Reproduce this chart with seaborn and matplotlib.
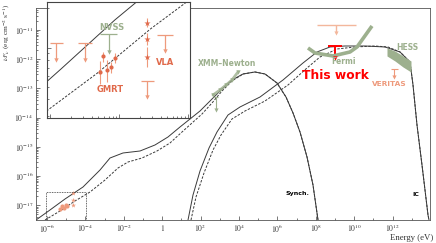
import numpy as np
import matplotlib
matplotlib.use("Agg")
import matplotlib.pyplot as plt
import seaborn as sns
from matplotlib.ticker import FixedLocator, FixedFormatter, NullFormatter, LogLocator
from matplotlib.patches import Rectangle

sns.set_style("ticks")
plt.rcParams["font.family"] = ["DejaVu Sans"]
plt.rcParams["mathtext.fontset"] = "stix"

# -----------------------------------------------------------
# model curves (log10 E [eV], log10 nuFnu [erg cm^-2 s^-1])

synch_solid_logE = [-6.573, -5.844, -5.063, -4.125, -3.240, -2.719, -2.042, -1.156, -0.375, 0.302,
                    0.927, 1.448, 1.969, 2.490, 3.115, 3.635, 4.208, 4.833, 5.354, 5.979,
                    6.448, 6.813, 7.177, 7.542, 7.854, 8.115]
synch_solid_logF = [-17.507, -17.164, -16.788, -16.377, -15.795, -15.384, -15.212, -15.144, -14.938, -14.664,
                    -14.322, -14.048, -13.774, -13.432, -13.021, -12.712, -12.507, -12.438, -12.507, -12.815,
                    -13.295, -13.842, -14.493, -15.349, -16.308, -17.507]

synch_dash_logE = [-6.104, -5.323, -4.542, -3.760, -2.979, -2.302, -1.781, -1.052, -0.271, 0.406,
                   1.031, 1.552, 2.073, 2.594, 3.115, 3.635, 4.208, 4.833, 5.354, 5.979,
                   6.448, 6.813, 7.177, 7.542, 7.854, 8.115]
synch_dash_logF = [-17.507, -17.199, -16.856, -16.548, -16.137, -15.726, -15.521, -15.384, -15.144, -14.870,
                   -14.493, -14.185, -13.877, -13.500, -13.089, -12.747, -12.507, -12.438, -12.507, -12.815,
                   -13.295, -13.842, -14.493, -15.349, -16.308, -17.507]

ic_solid_logE = [1.344, 1.604, 1.969, 2.438, 2.854, 3.427, 4.052, 5.094, 6.292, 7.333,
                 8.063, 8.740, 9.521, 10.563, 11.604, 12.385, 12.906, 13.063, 13.271, 13.531,
                 13.844, 13.896]
ic_solid_logF = [-17.507, -16.651, -15.829, -15.041, -14.493, -13.911, -13.637, -13.295, -12.712, -12.130,
                 -11.753, -11.582, -11.548, -11.548, -11.582, -11.753, -12.096, -12.884, -14.253, -15.623,
                 -17.336, -17.507]

ic_dash_logE = [1.500, 1.760, 2.177, 2.646, 3.063, 3.635, 4.313, 5.354, 6.552, 7.542,
                8.219, 9.104, 10.042, 11.083, 11.760, 12.385, 12.906, 13.063, 13.271, 13.531,
                13.844, 13.896]
ic_dash_logF = [-17.507, -16.719, -15.897, -15.110, -14.596, -14.048, -13.774, -13.432, -12.884, -12.301,
                -11.925, -11.651, -11.582, -11.548, -11.582, -11.753, -12.096, -12.884, -14.253, -15.623,
                -17.336, -17.507]

# -----------------------------------------------------------
# observations (main panel)

radio_circ_logE = [-5.323, -5.219, -5.115, -5.010, -4.958]
radio_circ_logF = [-17.13, -17.03, -17.10, -16.99, -17.03]
radio_star_logE = [-4.646, -4.646, -4.646]
radio_star_logF = [-16.58, -16.82, -16.99]

xmm_logE = [2.646, 3.010, 3.323, 3.635, 3.948]
xmm_logF = [-13.226, -13.055, -12.884, -12.712, -12.438]

fermi_logE = [7.594, 7.958, 8.896, 9.781, 10.146, 10.927]
fermi_logF = [-11.616, -11.788, -11.890, -11.753, -11.582, -10.863]

hess_logE = [11.708, 12.125, 12.542, 12.958]
hess_hi_logF = [-11.616, -11.719, -11.890, -12.062]
hess_lo_logF = [-11.890, -12.062, -12.267, -12.438]

# upper limits: centre, bar ends, bar level, arrow tip
xmm_ul = dict(E=[2.802], lo=[2.70], hi=[2.90], bar=[-13.295], tip=[-13.74])
old_ul = dict(E=[9.052], lo=[8.063], hi=[10.094], bar=[-10.829], tip=[-11.103])
this_ul = dict(E=[9.0], lo=[8.635], hi=[9.365], bar=[-11.548], tip=[-11.959])
veritas_ul = dict(E=[12.073], lo=[11.917], hi=[12.281], bar=[-12.336], tip=[-12.610])

# -----------------------------------------------------------
# observations (radio inset)

gmrt_logE = [-5.279, -5.235, -5.177, -5.119, -5.061]
gmrt_logF = [-17.188, -17.065, -17.173, -17.150, -17.081]
gmrt_lo_logF = [-17.281, -17.112, -17.265, -17.196, -17.119]
gmrt_hi_logF = [-17.104, -17.035, -17.096, -17.112, -17.042]

vla_logE = [-4.595, -4.595, -4.595]
vla_logF = [-16.812, -16.935, -17.073]
vla_lo_logF = [-16.842, -16.981, -17.150]
vla_hi_logF = [-16.773, -16.888, -16.996]

radio_ul = dict(E=[-5.919, -5.497, -4.595, -4.334], lo=[-6.006, -5.599, -4.683, -4.450],
                hi=[-5.817, -5.395, -4.494, -4.217], bar=[-16.965, -16.965, -17.258, -16.904],
                tip=[-17.096, -17.096, -17.381, -17.027])
nvss_ul = dict(E=[-5.148], lo=[-5.279], hi=[-5.032], bar=[-16.896], tip=[-17.035])

main_xlim = (-6.573, 13.948)
main_ylim = (-17.507, -10.247)
inset_xlim = (-6.05, -3.97)
inset_ylim = (-17.542, -16.65)
zoom_box_top = -16.548

x_major = list(range(-6, 14, 2))
x_labels = ["$10^{%d}$" % p if p != 0 else "$1$" for p in x_major]
y_major = list(range(-17, -10))
y_labels = ["$10^{%d}$" % p for p in y_major]

# -----------------------------------------------------------
LINE = "#3a3a3a"
ORANGE = "#e0694a"
SALMON = "#ee9a7c"
LIGHT = "#f3b79c"
GREEN = "#9db08e"
RED = "#ff0000"
DASH = (0, (2.5, 1.5))


def p10(v):
    return 10 ** np.asarray(v, dtype=float)


def draw_ul(a, ul, color, lw=0.8, ms=9):
    a.hlines(p10(ul["bar"]), p10(ul["lo"]), p10(ul["hi"]), color=color, lw=lw)
    a.vlines(p10(ul["E"]), p10(ul["tip"]), p10(ul["bar"]), color=color, lw=lw)
    a.scatter(p10(ul["E"]), p10(ul["tip"]), marker="v", s=ms, color=color, lw=0, zorder=4)


def draw_models(a):
    sns.lineplot(x=p10(synch_solid_logE), y=p10(synch_solid_logF), sort=False, estimator=None,
                 color=LINE, lw=0.7, ax=a)
    sns.lineplot(x=p10(synch_dash_logE), y=p10(synch_dash_logF), sort=False, estimator=None,
                 color=LINE, lw=0.7, linestyle=DASH, ax=a)
    sns.lineplot(x=p10(ic_solid_logE), y=p10(ic_solid_logF), sort=False, estimator=None,
                 color=LINE, lw=0.7, ax=a)
    sns.lineplot(x=p10(ic_dash_logE), y=p10(ic_dash_logF), sort=False, estimator=None,
                 color=LINE, lw=0.7, linestyle=DASH, ax=a)


fig = plt.figure(figsize=(4.36, 2.43), dpi=100)
W, H = 436.0, 243.0
ax = fig.add_axes([36 / W, 1 - 220 / H, 394 / W, 212 / H])
ax.set_xscale("log")
ax.set_yscale("log")

draw_models(ax)

# data in main panel
ax.fill_between(p10(hess_logE), p10(hess_lo_logF), p10(hess_hi_logF), color=GREEN, lw=0, zorder=3)
ax.plot(p10(fermi_logE), p10(fermi_logF), color=GREEN, lw=2.6, solid_capstyle="butt", zorder=3)
ax.plot(p10(xmm_logE), p10(xmm_logF), color=GREEN, lw=2.0, alpha=0.8, zorder=3)
sns.scatterplot(x=p10(xmm_logE), y=p10(xmm_logF), marker="v", s=10, color=GREEN, lw=0, ax=ax, zorder=4)
draw_ul(ax, xmm_ul, GREEN)
draw_ul(ax, old_ul, LIGHT, lw=1.0)
draw_ul(ax, this_ul, RED, lw=1.4, ms=10)
draw_ul(ax, veritas_ul, SALMON)
sns.scatterplot(x=p10(radio_circ_logE), y=p10(radio_circ_logF), marker="o", s=9, color=SALMON,
                lw=0, ax=ax, zorder=4)
sns.scatterplot(x=p10(radio_star_logE), y=p10(radio_star_logF), marker="*", s=14, color=SALMON,
                lw=0, ax=ax, zorder=4)

# dotted zoom box
ax.add_patch(Rectangle((10 ** inset_xlim[0], 10 ** main_ylim[0]),
                       10 ** inset_xlim[1] - 10 ** inset_xlim[0],
                       10 ** zoom_box_top - 10 ** main_ylim[0],
                       fill=False, ls=(0, (1, 1)), lw=0.6, ec="#333333", zorder=5))

ax.set_xlim(p10(main_xlim))
ax.set_ylim(p10(main_ylim))
ax.xaxis.set_major_locator(FixedLocator(p10(x_major)))
ax.xaxis.set_major_formatter(FixedFormatter(x_labels))
ax.xaxis.set_minor_locator(FixedLocator(p10(range(-6, 14))))
ax.xaxis.set_minor_formatter(NullFormatter())
ax.yaxis.set_major_locator(FixedLocator(p10(y_major)))
ax.yaxis.set_major_formatter(FixedFormatter(y_labels))
ax.yaxis.set_minor_locator(LogLocator(base=10, subs=np.arange(2, 10), numticks=20))
ax.yaxis.set_minor_formatter(NullFormatter())
ax.tick_params(which="both", direction="in", labelsize=5.5, width=0.5, color="#444444",
               labelcolor="#333333", pad=2)
ax.tick_params(which="major", length=3)
ax.tick_params(which="minor", length=1.5)
for s in ax.spines.values():
    s.set_linewidth(0.6)
    s.set_color("#555555")

# labels on main panel
def ftext(px, py, s, **kw):
    fig.text(px / W, 1 - py / H, s, ha="center", va="center", **kw)

ftext(227, 63, "XMM\u2013Newton", color=GREEN, fontsize=5.5, fontweight="bold")
ftext(343, 62, "Fermi", color=GREEN, fontsize=5.5, fontweight="bold")
ftext(407, 47, "HESS", color=GREEN, fontsize=5.5, fontweight="bold")
ftext(389, 84, "VERITAS", color=SALMON, fontsize=5.3, fontweight="bold")
ftext(335, 75, "This work", color=RED, fontsize=8.8, fontweight="bold")
ftext(297, 193, "Synch.", color="black", fontsize=4.5, fontweight="bold")
ftext(416, 194, "IC", color="black", fontsize=4.5, fontweight="bold")
fig.text(433 / W, 1 - 238 / H, "Energy (eV)", ha="right", va="center", fontsize=6.3,
         family=["Liberation Serif", "DejaVu Serif"], color="#333333")
fig.text(7 / W, 1 - 32 / H, r"$\nu F_\nu$ (erg cm$^{-2}$ s$^{-1}$)", rotation=90, ha="center",
         va="center", fontsize=5.3, family=["Liberation Serif", "DejaVu Serif"], color="#333333")

# -----------------------------------------------------------
# radio inset
axi = fig.add_axes([47 / W, 1 - 118 / H, 143 / W, 116 / H], zorder=6)
axi.set_facecolor("white")
axi.set_xscale("log")
axi.set_yscale("log")
draw_models(axi)

axi.errorbar(p10(gmrt_logE), p10(gmrt_logF),
             yerr=[p10(gmrt_logF) - p10(gmrt_lo_logF), p10(gmrt_hi_logF) - p10(gmrt_logF)],
             fmt="none", ecolor=SALMON, elinewidth=0.8, capsize=0)
axi.errorbar(p10(vla_logE), p10(vla_logF),
             yerr=[p10(vla_logF) - p10(vla_lo_logF), p10(vla_hi_logF) - p10(vla_logF)],
             fmt="none", ecolor=SALMON, elinewidth=0.8, capsize=0)
sns.scatterplot(x=p10(gmrt_logE), y=p10(gmrt_logF), marker="o", s=9, color=ORANGE, lw=0, ax=axi, zorder=4)
sns.scatterplot(x=p10(vla_logE), y=p10(vla_logF), marker="*", s=22, color=ORANGE, lw=0, ax=axi, zorder=4)
draw_ul(axi, radio_ul, SALMON, lw=0.9, ms=10)
draw_ul(axi, nvss_ul, GREEN, lw=0.9, ms=10)

def itext(px, py, s, **kw):
    axi.text((px - 47) / 143, 1 - (py - 2) / 116, s, transform=axi.transAxes,
             ha="center", va="center", fontweight="bold", **kw)

itext(112, 27, "NVSS", color=GREEN, fontsize=6)
itext(110, 90, "GMRT", color=ORANGE, fontsize=6)
itext(165, 62, "VLA", color=ORANGE, fontsize=6)

axi.set_xlim(p10(inset_xlim))
axi.set_ylim(p10(inset_ylim))
axi.xaxis.set_major_locator(LogLocator(base=10, numticks=10))
axi.xaxis.set_minor_locator(LogLocator(base=10, subs=np.arange(2, 10), numticks=20))
axi.yaxis.set_major_locator(LogLocator(base=10, numticks=10))
axi.yaxis.set_minor_locator(LogLocator(base=10, subs=np.arange(2, 10), numticks=20))
for a_ in (axi.xaxis, axi.yaxis):
    a_.set_major_formatter(NullFormatter())
    a_.set_minor_formatter(NullFormatter())
axi.tick_params(which="both", direction="in", width=0.5, color="#444444")
axi.tick_params(which="major", length=3)
axi.tick_params(which="minor", length=1.5)
for s in axi.spines.values():
    s.set_linewidth(0.8)
    s.set_color("#444444")

fig.savefig("out.png", dpi=100)
